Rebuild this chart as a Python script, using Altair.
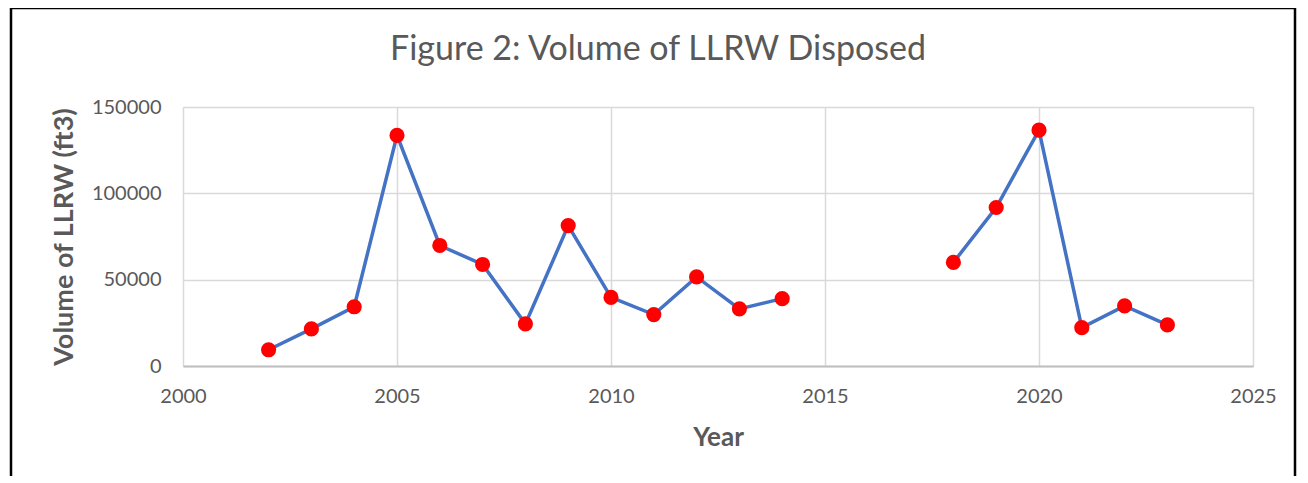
import altair as alt
import pandas as pd

years = [2002, 2003, 2004, 2005, 2006, 2007, 2008, 2009, 2010, 2011, 2012, 2013, 2014,
         2018, 2019, 2020, 2021, 2022, 2023]
volumes = [9400, 21500, 34300, 133600, 69800, 58800, 24400, 81300, 39700, 29800, 51600, 33100, 39000,
           60000, 91800, 136600, 22200, 34800, 23800]
x_ticks = [2000, 2005, 2010, 2015, 2020, 2025]
y_ticks = [0, 50000, 100000, 150000]
title_text = "Figure 2: Volume of LLRW Disposed"

seg = []
s = 0
for i, yv in enumerate(years):
    if i > 0 and yv - years[i - 1] > 1:
        s += 1
    seg.append(s)
df = pd.DataFrame({"Year": years, "Volume": volumes, "seg": seg})

FONT = "Lato"
GRAY = "#595959"

x = alt.X("Year:Q", scale=alt.Scale(domain=[2000, 2025], nice=False, zero=False),
          axis=alt.Axis(values=x_ticks, format="d", title="Year", grid=True, labelFlush=False,
                        gridColor="#d9d9d9", gridWidth=1.5, domainColor="#bfbfbf", domainWidth=2,
                        ticks=False, labelPadding=20, labelFontSize=20, labelColor=GRAY,
                        labelFont=FONT, titleFont=FONT, titleFontSize=26, titleColor=GRAY,
                        titleFontWeight="bold", titlePadding=18))
y = alt.Y("Volume:Q", scale=alt.Scale(domain=[0, 150000], nice=False),
          axis=alt.Axis(values=y_ticks, format="d", title="Volume of LLRW (ft3)", grid=True,
                        labelFlush=False,
                        gridColor="#d9d9d9", gridWidth=1.5, domain=False, ticks=False,
                        labelPadding=22, labelFontSize=20, labelColor=GRAY, labelFont=FONT,
                        titleFont=FONT, titleFontSize=27, titleColor=GRAY,
                        titleFontWeight="bold", titlePadding=13))

base = alt.Chart(df)
line = base.mark_line(color="#4472C4", strokeWidth=3.5).encode(x=x, y=y, detail="seg:N")
pts = base.mark_circle(color="#FF0000", opacity=1, size=230).encode(x=x, y=y)
one = alt.Chart(pd.DataFrame({"t": [title_text]}))
frame = one.mark_rect(fill=None, stroke="black", strokeWidth=2.5).encode(
    x=alt.value(-172), x2=alt.value(1112), y=alt.value(-99), y2=alt.value(400))
title = one.mark_text(font=FONT, fontSize=34, color=GRAY, align="center", baseline="middle").encode(
    text="t:N", x=alt.value(475), y=alt.value(-57))

chart = alt.layer(frame, title, line, pts).properties(
    width=1070, height=259,
    padding={"left": 175, "top": 99, "right": 44, "bottom": 110},
    autosize=alt.AutoSizeParams(type="none"),
).configure_view(stroke="#d9d9d9", strokeWidth=1.5).configure(background="white")

chart.save("out.html", embed_options={"renderer": "svg", "actions": False})
